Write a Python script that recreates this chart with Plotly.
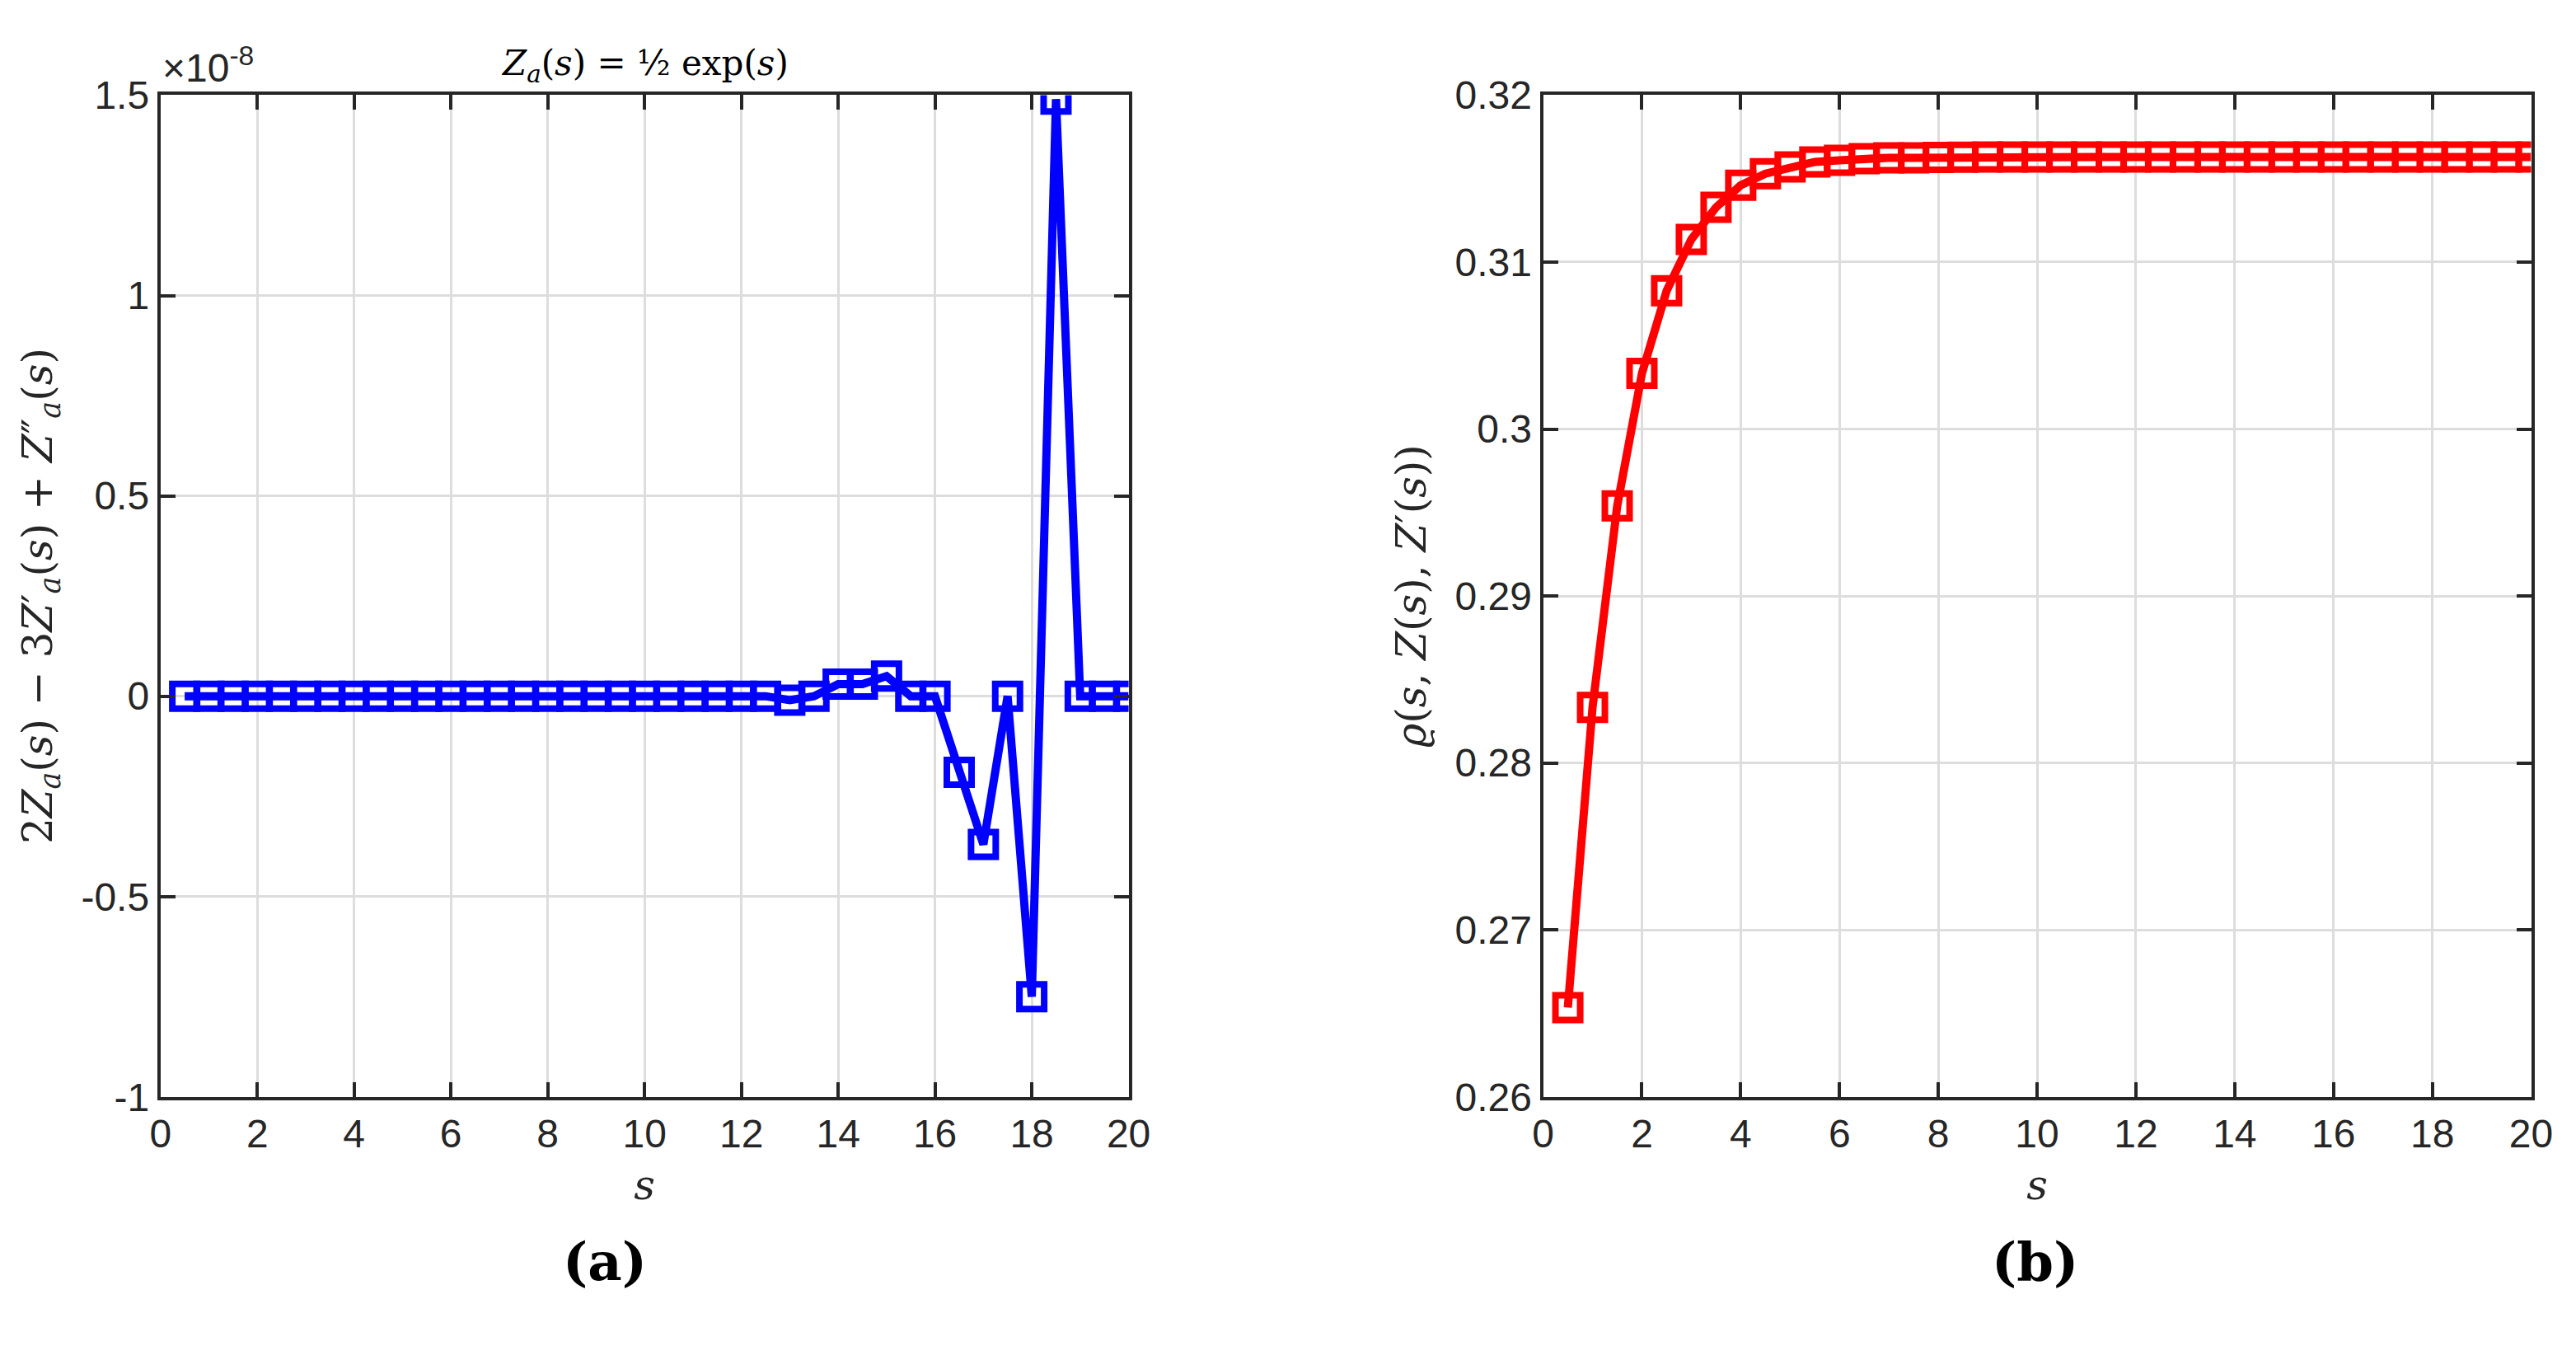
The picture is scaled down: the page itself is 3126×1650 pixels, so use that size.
import plotly.graph_objects as go

s = [0.5 * i for i in range(1, 41)]
resid = [0]*25 + [-0.01, 0, 0.03, 0.03, 0.05, 0, 0, -0.19, -0.37, 0, -0.75, 1.49, 0, 0, 0]
rho = [0.26535, 0.28333, 0.29540, 0.30333, 0.30828, 0.31136, 0.31328, 0.31460, 0.3153, 0.3157,
       0.3160, 0.3161, 0.3162, 0.31625, 0.31625, 0.31627, 0.31628] + [0.3163]*23
resid_ticks = [-1, -0.5, 0, 0.5, 1, 1.5]
resid_ticklabels = ["-1", "-0.5", "0", "0.5", "1", "1.5"]
rho_ticks = [0.26, 0.27, 0.28, 0.29, 0.30, 0.31, 0.32]
rho_ticklabels = ["0.26", "0.27", "0.28", "0.29", "0.3", "0.31", "0.32"]
x_ticks = list(range(0, 21, 2))

fig = go.Figure()
fig.add_trace(go.Scatter(x=s, y=resid, mode="lines+markers", xaxis="x", yaxis="y",
                         line=dict(color="#0000ff", width=10),
                         marker=dict(symbol="square-open", size=30, color="#0000ff", line=dict(width=8))))
fig.add_trace(go.Scatter(x=s, y=rho, mode="lines+markers", xaxis="x2", yaxis="y2",
                         line=dict(color="#ff0000", width=10),
                         marker=dict(symbol="square-open", size=30, color="#ff0000", line=dict(width=8))))

font = dict(family="Liberation Sans Narrow, Liberation Sans, sans-serif", size=48, color="#262626")
ax = dict(showline=True, linecolor="#262626", linewidth=4, mirror="ticks", ticks="inside",
          ticklen=18, tickwidth=4, tickcolor="#262626", showgrid=True, gridcolor="#dddddd",
          gridwidth=3, zeroline=False, tickfont=font)
lab = dict(family="DejaVu Serif, serif", size=50, color="#262626")
fig.update_layout(
    width=3126, height=1650, paper_bgcolor="white", plot_bgcolor="white", showlegend=False,
    margin=dict(l=0, r=0, t=0, b=0),
    xaxis=dict(ax, domain=[0.0563, 0.437], range=[0, 20], tickvals=x_ticks, anchor="y",
               title=dict(text="<i>s</i>", font=lab, standoff=20)),
    yaxis=dict(ax, domain=[0.188, 0.949], range=[-1, 1.5], tickvals=resid_ticks,
               ticktext=resid_ticklabels, anchor="x",
               title=dict(text="2<i>Z<sub>a</sub></i>(<i>s</i>) − 3<i>Z</i>′<sub><i>a</i></sub>(<i>s</i>) + <i>Z</i>″<sub><i>a</i></sub>(<i>s</i>)",
                          font=lab, standoff=20)),
    xaxis2=dict(ax, domain=[0.600, 0.9885], range=[0, 20], tickvals=x_ticks, anchor="y2",
                title=dict(text="<i>s</i>", font=lab, standoff=20)),
    yaxis2=dict(ax, domain=[0.188, 0.949], range=[0.26, 0.32], tickvals=rho_ticks,
                ticktext=rho_ticklabels, anchor="x2",
                title=dict(text="<i>ϱ</i>(<i>s</i>, <i>Z</i>(<i>s</i>), <i>Z</i>′(<i>s</i>))",
                           font=lab, standoff=20)),
)
fig.add_annotation(x=0.0563, y=0.952, xref="paper", yref="paper", xanchor="left", yanchor="bottom",
                   text="×10<sup>-8</sup>", showarrow=False, font=font)
fig.add_annotation(x=0.2467, y=0.953, xref="paper", yref="paper", xanchor="center", yanchor="bottom",
                   text="<i>Z<sub>a</sub></i>(<i>s</i>) = ½ exp(<i>s</i>)", showarrow=False,
                   font=dict(family="DejaVu Serif, serif", size=42, color="black"))
fig.add_annotation(x=0.2310, y=0.063, xref="paper", yref="paper", xanchor="center", yanchor="middle",
                   text="<b>(a)</b>", showarrow=False, font=dict(family="DejaVu Serif, serif", size=64, color="black"))
fig.add_annotation(x=0.7935, y=0.063, xref="paper", yref="paper", xanchor="center", yanchor="middle",
                   text="<b>(b)</b>", showarrow=False, font=dict(family="DejaVu Serif, serif", size=64, color="black"))
fig.write_html("out.html")
